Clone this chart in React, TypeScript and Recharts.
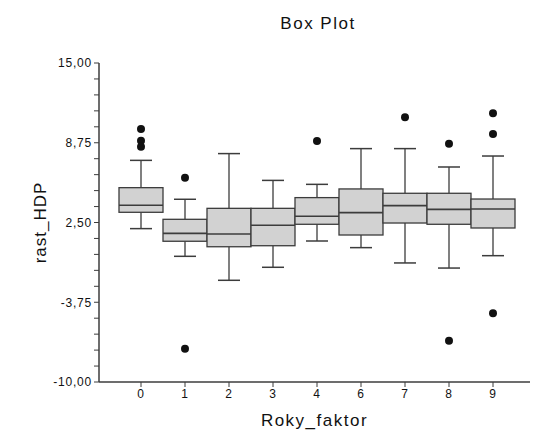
import React from "react";
import { ComposedChart, Bar, XAxis, YAxis } from "recharts";

const categories = ["0", "1", "2", "3", "4", "6", "7", "8", "9"];
const whiskerLow = [2.02, -0.15, -2.03, -1.01, 1.05, 0.53, -0.67, -1.07, -0.1];
const q1 = [3.3, 1.03, 0.6, 0.68, 2.36, 1.52, 2.46, 2.36, 2.07];
const median = [3.85, 1.65, 1.6, 2.28, 2.99, 3.27, 3.82, 3.53, 3.56];
const q3 = [5.23, 2.75, 3.61, 3.61, 4.45, 5.13, 4.79, 4.79, 4.34];
const whiskerHigh = [7.37, 4.32, 7.9, 5.8, 5.49, 8.29, 8.29, 6.85, 7.71];
const outliers = [
  [9.83, 8.91, 8.44],
  [6.01, -7.39],
  [],
  [],
  [8.89],
  [],
  [10.74],
  [8.68, -6.76],
  [11.06, 9.44, -4.62],
];

const majorTicks = [-10, -3.75, 2.5, 8.75, 15];
const minorTicks = [
  -8.75, -7.5, -6.25, -5, -2.5, -1.25, 0, 1.25, 3.75, 5, 6.25, 7.5, 10, 11.25,
  12.5, 13.75,
];

const data = categories.map((cat, i) => ({
  cat,
  min: whiskerLow[i],
  q1: q1[i],
  median: median[i],
  q3: q3[i],
  max: whiskerHigh[i],
  outliers: outliers[i],
}));

const font = "'Liberation Sans', Arial, sans-serif";
const stroke = "#3c3c3c";

function BoxShape(props: any) {
  const { x, y, width, height, payload } = props;
  const perUnit = height / (payload.max - payload.min);
  const toY = (v: number) => y + (payload.max - v) * perUnit;
  const cx = x + width / 2;
  const cap = 11;
  return (
    <g>
      <line x1={cx} x2={cx} y1={toY(payload.max)} y2={toY(payload.q3)} stroke={stroke} strokeWidth={1.3} />
      <line x1={cx} x2={cx} y1={toY(payload.q1)} y2={toY(payload.min)} stroke={stroke} strokeWidth={1.3} />
      <line x1={cx - cap} x2={cx + cap} y1={toY(payload.max)} y2={toY(payload.max)} stroke={stroke} strokeWidth={1.5} />
      <line x1={cx - cap} x2={cx + cap} y1={toY(payload.min)} y2={toY(payload.min)} stroke={stroke} strokeWidth={1.5} />
      <rect
        x={x}
        y={toY(payload.q3)}
        width={width}
        height={toY(payload.q1) - toY(payload.q3)}
        fill="#d2d2d2"
        stroke={stroke}
        strokeWidth={1.3}
      />
      <line x1={x} x2={x + width} y1={toY(payload.median)} y2={toY(payload.median)} stroke={stroke} strokeWidth={1.6} />
      {payload.outliers.map((v: number, k: number) => (
        <circle key={k} cx={cx} cy={toY(v)} r={4} fill="#111" />
      ))}
    </g>
  );
}

export default function App() {
  return (
    <div style={{ position: "absolute", left: 0, top: 0, width: 534, height: 430, background: "#fff" }}>
      <div
        style={{
          position: "absolute",
          left: 0,
          top: 14,
          width: 636,
          textAlign: "center",
          fontFamily: font,
          fontSize: 17,
          letterSpacing: 1.5,
          color: "#111",
        }}
      >
        Box Plot
      </div>
      <ComposedChart
        width={534}
        height={430}
        data={data}
        margin={{ top: 63, right: 4, bottom: 0, left: 0 }}
        barCategoryGap={0}
      >
        <XAxis
          dataKey="cat"
          height={48}
          padding={{ left: 20, right: 15 }}
          tickLine={{ stroke: stroke }}
          tickSize={5}
          axisLine={{ stroke: stroke, strokeWidth: 1.5 }}
          tick={{ fill: "#111", fontSize: 12, fontFamily: font, letterSpacing: 1 }}
          label={{
            value: "Roky_faktor",
            position: "insideBottom",
            offset: 4,
            fill: "#111",
            fontSize: 17,
            fontFamily: font,
            letterSpacing: 1.5,
          }}
        />
        <YAxis
          width={99}
          domain={[-10, 15]}
          ticks={[...majorTicks, ...minorTicks].sort((a, b) => a - b)}
          interval={0}
          tickSize={5}
          tickLine={{ stroke: stroke }}
          axisLine={{ stroke: stroke, strokeWidth: 1.5 }}
          tickFormatter={(v: number) =>
            majorTicks.includes(v) ? v.toFixed(2).replace(".", ",") : ""
          }
          tick={{ fill: "#111", fontSize: 12, fontFamily: font, letterSpacing: 0.8 }}
          label={{
            value: "rast_HDP",
            angle: -90,
            position: "center",
            dx: -10,
            fill: "#111",
            fontSize: 17,
            fontFamily: font,
            letterSpacing: 1,
          }}
        />
        <Bar
          dataKey={(d: any) => [d.min, d.max]}
          shape={(p: any) => <BoxShape {...p} />}
          isAnimationActive={false}
        />
      </ComposedChart>
    </div>
  );
}
